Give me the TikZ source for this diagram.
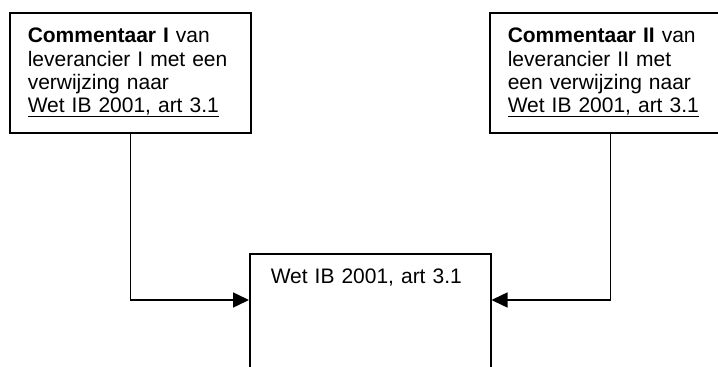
\documentclass[tikz,border=0pt]{standalone}
\usepackage{fontspec}
\setmainfont{Liberation Sans}
\usetikzlibrary{calc,backgrounds,arrows.meta}
\newcommand{\wetib}{Wet IB 2001, art 3.1}
\newcommand{\onderlijn}[1]{\leavevmode\setbox0\hbox{#1}%
    \rlap{\rule[-4.8pt]{\wd0}{1.5pt}}\box0}

\begin{document}
\begin{tikzpicture}[%
    x=1pt,y=1pt,%
    show background rectangle,%
    tight background,%
    background rectangle/.style={fill=white}%
    ]
    % Commentaren met verwijzing

    %
    % Definities
    %
    \pgfmathsetmacro{\xl}{9};%
    \pgfmathsetmacro{\xm}{249};%
    \pgfmathsetmacro{\xr}{489};%
    \pgfmathsetmacro{\yt}{-12};%
    \pgfmathsetmacro{\ym}{-253};%
    \pgfmathsetmacro{\dy}{47};%

    %
    % Stijlen
    %
    \tikzset{kader/.style={draw,line width=1.5pt,anchor=north west,%
        minimum width=241pt,minimum height=120pt,inner xsep=18pt,%
        text width=205pt,align=left,font=\fontsize{21}{23.3}\selectfont}};%
    \tikzset{pijl/.style={-{Triangle[length=16pt,width=15pt]},line width=1.5pt}};%

    \useasboundingbox (0,0) rectangle (718,-367);

    %
    % Tekening
    %
    % Commentaren
    \node[kader] (com1) at (\xl,\yt) {\textbf{Commentaar I} van\\%
        leverancier I met een\\verwijzing naar\\\onderlijn{\wetib}};%
    \node[kader] (com2) at (\xr,\yt) {\textbf{Commentaar II} van\\%
        leverancier II met\\een verwijzing naar\\\onderlijn{\wetib}};%

    % Wetsartikel
    \node[kader,minimum height=0pt,inner xsep=21pt,text width=199pt,%
        inner ysep=15pt,text height=15pt,text depth=150pt] (wet) %
        at (\xm,\ym) {\wetib};%

    % Verwijzingen
    \coordinate (inl) at ($(wet.north west)+(0,-\dy)$);%
    \coordinate (inr) at ($(wet.north east)+(0,-\dy)$);%
    \draw[pijl] (com1.south) |- (inl);%
    \draw[pijl] (com2.south) |- (inr);%

\end{tikzpicture}
\end{document}
